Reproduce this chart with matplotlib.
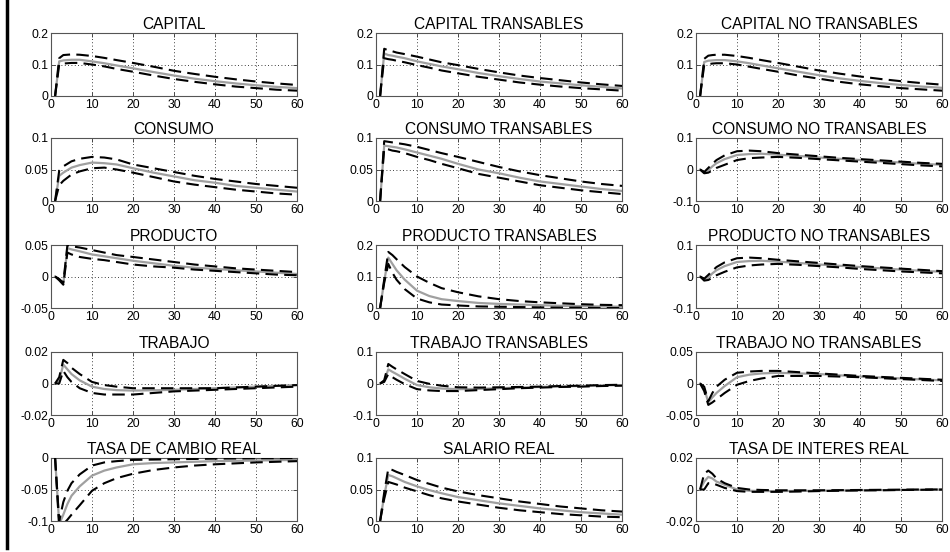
import matplotlib
matplotlib.use("Agg")
import matplotlib.pyplot as plt
from matplotlib.lines import Line2D

plt.rcParams['font.family'] = ['Liberation Sans', 'DejaVu Sans']

# horizon points
t = [1, 2, 3, 4, 5, 7, 10, 13, 16, 20, 25, 30, 35, 40, 45, 50, 55, 60]

titles = ["CAPITAL", "CAPITAL TRANSABLES", "CAPITAL NO TRANSABLES",
          "CONSUMO", "CONSUMO TRANSABLES", "CONSUMO NO TRANSABLES",
          "PRODUCTO", "PRODUCTO TRANSABLES", "PRODUCTO NO TRANSABLES",
          "TRABAJO", "TRABAJO TRANSABLES", "TRABAJO NO TRANSABLES",
          "TASA DE CAMBIO REAL", "SALARIO REAL", "TASA DE INTERES REAL"]

ylims = [(0, 0.2), (0, 0.2), (0, 0.2),
         (0, 0.1), (0, 0.1), (-0.1, 0.1),
         (-0.05, 0.05), (0, 0.2), (-0.1, 0.1),
         (-0.02, 0.02), (-0.1, 0.1), (-0.05, 0.05),
         (-0.1, 0), (0, 0.1), (-0.02, 0.02)]

# median responses
med = [
    [0, .110, .113, .114, .115, .115, .110, .104, .097, .088, .076, .065, .055, .047, .040, .034, .029, .025],
    [0, .135, .130, .128, .125, .120, .110, .102, .094, .085, .073, .063, .054, .046, .040, .034, .029, .024],
    [0, .108, .112, .113, .114, .114, .110, .104, .097, .088, .077, .066, .056, .048, .041, .035, .030, .026],
    [0, .040, .045, .049, .053, .057, .061, .060, .058, .052, .045, .039, .033, .029, .024, .021, .018, .015],
    [0, .088, .087, .086, .085, .082, .077, .072, .067, .059, .050, .044, .037, .031, .027, .023, .019, .016],
    [0, -.010, -.002, .010, .020, .033, .046, .049, .050, .047, .043, .038, .034, .030, .026, .022, .018, .015],
    [0, -.005, -.012, .045, .043, .040, .035, .032, .029, .025, .021, .017, .014, .012, .010, .008, .006, .004],
    [0, .085, .160, .140, .120, .090, .055, .038, .028, .022, .016, .013, .011, .009, .007, .006, .005, .004],
    [0, -.010, -.003, .010, .020, .033, .046, .049, .050, .047, .043, .038, .034, .030, .026, .022, .018, .015],
    [0, .002, .012, .009, .006, .002, -.002, -.0035, -.0042, -.0045, -.0043, -.004, -.0035, -.003, -.0025, -.002, -.0015, -.001],
    [0, .008, .045, .037, .030, .015, -.005, -.012, -.016, -.018, -.017, -.015, -.013, -.011, -.009, -.008, -.006, -.005],
    [0, -.008, -.030, -.022, -.015, -.004, .010, .014, .016, .017, .016, .015, .013, .011, .0095, .008, .0065, .005],
    [0, -.105, -.090, -.073, -.060, -.045, -.028, -.020, -.015, -.010, -.008, -.007, -.006, -.005, -.0045, -.004, -.0035, -.003],
    [0, .040, .073, .071, .068, .062, .055, .049, .044, .038, .033, .028, .024, .020, .017, .014, .012, .010],
    [0, .005, .008, .007, .005, .003, .000, -.0008, -.001, -.001, -.0009, -.0008, -.0006, -.0005, -.0004, -.0003, -.0002, 0],
]

# upper band
upper = [
    [0, .120, .130, .131, .132, .131, .127, .121, .114, .105, .093, .080, .070, .061, .053, .046, .040, .035],
    [0, .150, .145, .142, .138, .133, .125, .116, .107, .098, .086, .075, .065, .057, .050, .043, .037, .032],
    [0, .118, .128, .130, .131, .131, .127, .121, .114, .105, .093, .081, .071, .062, .054, .047, .041, .036],
    [0, .048, .055, .059, .063, .067, .070, .069, .066, .058, .052, .046, .040, .035, .031, .027, .024, .021],
    [0, .095, .094, .093, .092, .090, .086, .081, .076, .070, .062, .054, .047, .041, .036, .031, .027, .024],
    [0, -.008, .005, .018, .030, .045, .058, .060, .058, .052, .047, .042, .037, .033, .029, .025, .021, .018],
    [0, -.004, -.010, .050, .048, .046, .042, .038, .034, .031, .027, .023, .019, .016, .013, .011, .009, .007],
    [0, .090, .178, .168, .155, .130, .100, .080, .063, .050, .037, .028, .022, .018, .015, .012, .010, .009],
    [0, -.007, .005, .018, .030, .045, .058, .060, .058, .053, .048, .043, .038, .033, .029, .025, .021, .017],
    [0, .004, .015, .013, .010, .006, .001, -.001, -.002, -.003, -.003, -.003, -.003, -.003, -.0025, -.002, -.0015, -.001],
    [0, .010, .062, .053, .045, .030, .008, -.001, -.007, -.012, -.013, -.012, -.011, -.010, -.008, -.007, -.005, -.004],
    [0, -.005, -.028, -.015, -.005, .006, .017, .019, .020, .020, .018, .016, .014, .012, .0105, .009, .0075, .006],
    [0, -.100, -.070, -.052, -.040, -.026, -.012, -.007, -.005, -.003, -.0025, -.002, -.0015, -.001, -.0008, -.0005, -.0003, 0],
    [0, .045, .083, .081, .078, .073, .065, .059, .053, .047, .041, .036, .031, .027, .023, .020, .017, .015],
    [0, .010, .012, .010, .007, .004, .001, .000, -.0003, -.0005, -.0005, -.0005, -.0004, -.0003, -.0002, -.0001, 0, 0],
]

# lower band
lower = [
    [0, .100, .103, .104, .105, .105, .100, .094, .086, .077, .065, .054, .045, .037, .030, .025, .020, .017],
    [0, .120, .117, .115, .112, .107, .098, .090, .081, .072, .061, .052, .043, .036, .030, .025, .021, .017],
    [0, .098, .101, .103, .104, .104, .100, .093, .086, .077, .065, .055, .045, .037, .031, .025, .021, .017],
    [0, .025, .032, .037, .042, .047, .052, .053, .050, .045, .038, .031, .026, .022, .018, .015, .012, .010],
    [0, .083, .082, .080, .079, .076, .070, .065, .059, .052, .043, .037, .031, .025, .021, .017, .014, .011],
    [0, -.012, -.010, -.003, .005, .015, .030, .036, .038, .040, .037, .033, .029, .025, .021, .017, .013, .010],
    [0, -.006, -.013, .038, .035, .031, .028, .026, .023, .019, .016, .014, .011, .009, .007, .005, .003, .002],
    [0, .080, .140, .112, .090, .060, .030, .018, .011, .008, .005, .004, .003, .002, .001, .001, .000, .000],
    [0, -.013, -.011, -.004, .004, .015, .029, .035, .038, .040, .037, .033, .029, .024, .020, .016, .013, .010],
    [0, .000, .008, .004, .001, -.003, -.006, -.007, -.007, -.007, -.006, -.005, -.0045, -.004, -.0035, -.003, -.0025, -.002],
    [0, .005, .030, .020, .012, -.002, -.018, -.022, -.024, -.024, -.021, -.018, -.015, -.013, -.011, -.010, -.008, -.007],
    [0, -.012, -.034, -.030, -.025, -.015, -.002, .004, .008, .012, .012, .012, .011, .010, .0085, .007, .0055, .004],
    [0, -.110, -.105, -.098, -.090, -.075, -.052, -.040, -.032, -.025, -.019, -.015, -.012, -.010, -.0085, -.007, -.006, -.005],
    [0, .035, .062, .060, .058, .053, .047, .041, .036, .031, .026, .021, .017, .014, .011, .009, .007, .006],
    [0, .000, .004, .004, .003, .001, -.001, -.0015, -.0015, -.0015, -.0013, -.001, -.0008, -.0006, -.0005, -.0003, -.0002, 0],
]

W, H = 950, 552
fig = plt.figure(figsize=(W / 100, H / 100), dpi=100)

col_left = [51, 376, 696]
ax_w = 246
row_top = [33, 138, 245, 352, 458]
ax_h = 63

for i in range(15):
    r, c = divmod(i, 3)
    x0 = col_left[c] / W
    y0 = 1 - (row_top[r] + ax_h) / H
    ax = fig.add_axes([x0, y0, ax_w / W, ax_h / H])
    ax.plot(t, med[i], color='#a0a0a0', lw=1.6, zorder=2)
    ax.plot(t, upper[i], color='black', lw=1.5, ls=(0, (6, 3)), zorder=3)
    ax.plot(t, lower[i], color='black', lw=1.5, ls=(0, (6, 3)), zorder=3)
    lo, hi = ylims[i]
    ax.set_xlim(0, 60)
    ax.set_ylim(lo, hi)
    ax.set_xticks([0, 10, 20, 30, 40, 50, 60])
    yt = [lo, (lo + hi) / 2, hi]
    ax.set_yticks(yt)
    ax.set_yticklabels(["%g" % round(v, 3) for v in yt])
    for x in [10, 20, 30, 40, 50]:
        ax.axvline(x, color='black', lw=0.6, ls=(0, (1, 3)), zorder=1)
    ax.axhline(yt[1], color='black', lw=0.6, ls=(0, (1, 3)), zorder=1)
    ax.tick_params(direction='in', length=3, width=0.6, labelsize=8.8,
                   pad=2, colors='#333333', labelcolor='black',
                   top=True, right=True)
    for s in ax.spines.values():
        s.set_color('#555555')
        s.set_linewidth(0.8)
    ax.set_title(titles[i], fontsize=11.2, pad=3)

fig.add_artist(Line2D([6.5 / W, 6.5 / W], [1, 1 - 548 / H],
                      transform=fig.transFigure, color='black', lw=2.5))

fig.savefig("out.png", dpi=100)
